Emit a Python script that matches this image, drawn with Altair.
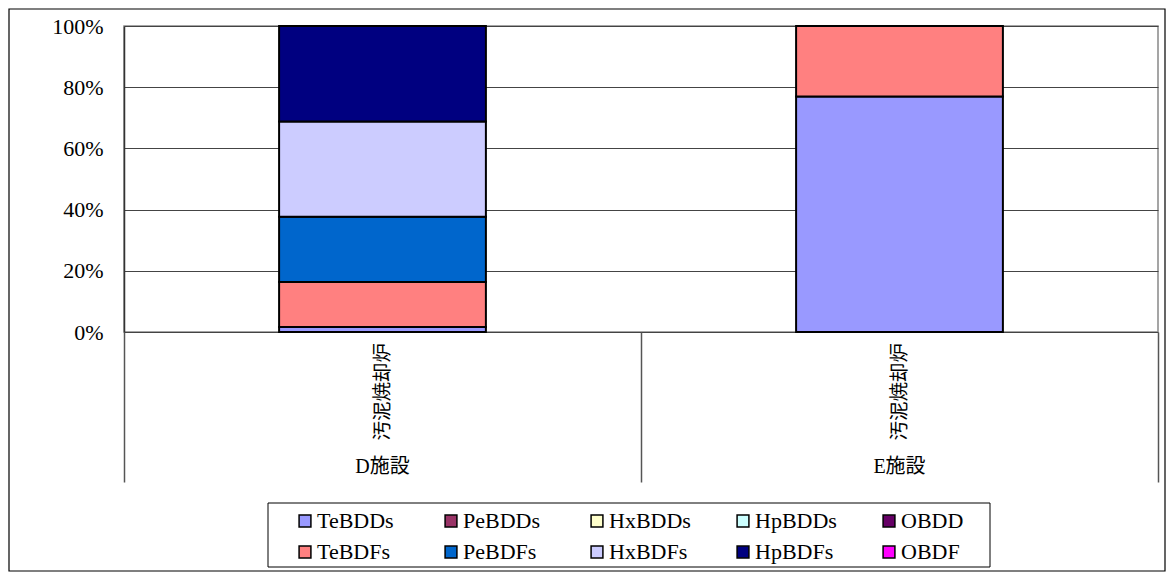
import altair as alt
import pandas as pd

facilities = ["D施設", "E施設"]
furnace = ["汚泥焼却炉", "汚泥焼却炉"]
congeners = ["TeBDDs", "PeBDDs", "HxBDDs", "HpBDDs", "OBDD",
             "TeBDFs", "PeBDFs", "HxBDFs", "HpBDFs", "OBDF"]
colors = ["#9999FF", "#993366", "#FFFFCC", "#CCFFFF", "#660066",
          "#FF8080", "#0066CC", "#CCCCFF", "#000080", "#FF00FF"]
d_values = [1.6, 0, 0, 0, 0, 14.7, 21.4, 31.1, 31.2, 0]
e_values = [77.0, 0, 0, 0, 0, 23.0, 0, 0, 0, 0]

rows = []
for fac, vals in zip(facilities, [d_values, e_values]):
    for i, (c, v) in enumerate(zip(congeners, vals)):
        rows.append({"facility": fac, "congener": c, "value": v, "order": i})
df = pd.DataFrame(rows)
labels_df = pd.DataFrame({"facility": facilities, "furnace": furnace})

W, H = 1034, 306
PAD_L, PAD_T, PAD_R, PAD_B = 116, 18, 8, 240
SERIF = "Liberation Serif, Noto Sans CJK JP"

xscale = alt.Scale(domain=facilities, paddingInner=0, paddingOuter=0)

bars = alt.Chart(df).transform_filter("datum.value > 0").mark_bar(
    width={"band": 0.4}, stroke="black", strokeWidth=2
).encode(
    x=alt.X("facility:N", scale=xscale, sort=facilities,
            axis=alt.Axis(title=None, labels=False, tickBand="extent", tickSize=150,
                          tickColor="#555", tickWidth=1.5, domain=False, grid=False)),
    y=alt.Y("sum(value):Q", stack="normalize",
            scale=alt.Scale(domain=[0, 1]),
            axis=alt.Axis(title=None, format=".0%", values=[0, 0.2, 0.4, 0.6, 0.8, 1.0],
                          ticks=False, labelFont="Liberation Serif", labelFontSize=22,
                          labelColor="black", labelPadding=21, domainColor="#333",
                          domainWidth=1.5, gridColor="#444", gridWidth=1.2)),
    color=alt.Color("congener:N",
                    scale=alt.Scale(domain=congeners, range=colors),
                    legend=alt.Legend(title=None, orient="none", legendX=170, legendY=484,
                                      columns=5, direction="horizontal", gridAlign="all",
                                      symbolType="square", symbolSize=140,
                                      symbolStrokeColor="black", symbolStrokeWidth=1.5,
                                      symbolOpacity=1,
                                      labelFont="Liberation Serif", labelFontSize=22,
                                      labelColor="black",
                                      columnPadding=41, rowPadding=9, labelOffset=1,
                                      padding=0)),
    order=alt.Order("order:Q", sort="ascending"),
)

inner = alt.Chart(labels_df).mark_text(
    angle=270, align="right", baseline="middle",
    font="Noto Sans CJK JP", fontSize=19.5, color="black"
).encode(x=alt.X("facility:N", scale=xscale, sort=facilities), y=alt.value(H + 11),
         text="furnace:N")

outer = alt.Chart(labels_df).mark_text(
    align="center", baseline="middle", font=SERIF, fontSize=20, color="black"
).encode(x=alt.X("facility:N", scale=xscale, sort=facilities), y=alt.value(H + 135),
         text="facility:N")

box_df = pd.DataFrame({"k": [0]})
legend_box = alt.Chart(box_df).mark_rect(fill=None, stroke="black", strokeWidth=1).encode(
    x=alt.value(144), x2=alt.value(866), y=alt.value(477), y2=alt.value(541)
)
outer_box = alt.Chart(box_df).mark_rect(fill=None, stroke="black", strokeWidth=1.2).encode(
    x=alt.value(-PAD_L + 1), x2=alt.value(W + PAD_R - 1),
    y=alt.value(-PAD_T + 1), y2=alt.value(H + PAD_B - 1)
)

chart = alt.layer(outer_box, bars, inner, outer, legend_box).properties(
    width=W, height=H,
    autosize=alt.AutoSizeParams(type="none"),
    padding={"left": PAD_L, "top": PAD_T, "right": PAD_R, "bottom": PAD_B},
).configure_view(stroke="#888", strokeWidth=1.5)

chart.save("out.html", embed_options={"renderer": "svg", "actions": False})
